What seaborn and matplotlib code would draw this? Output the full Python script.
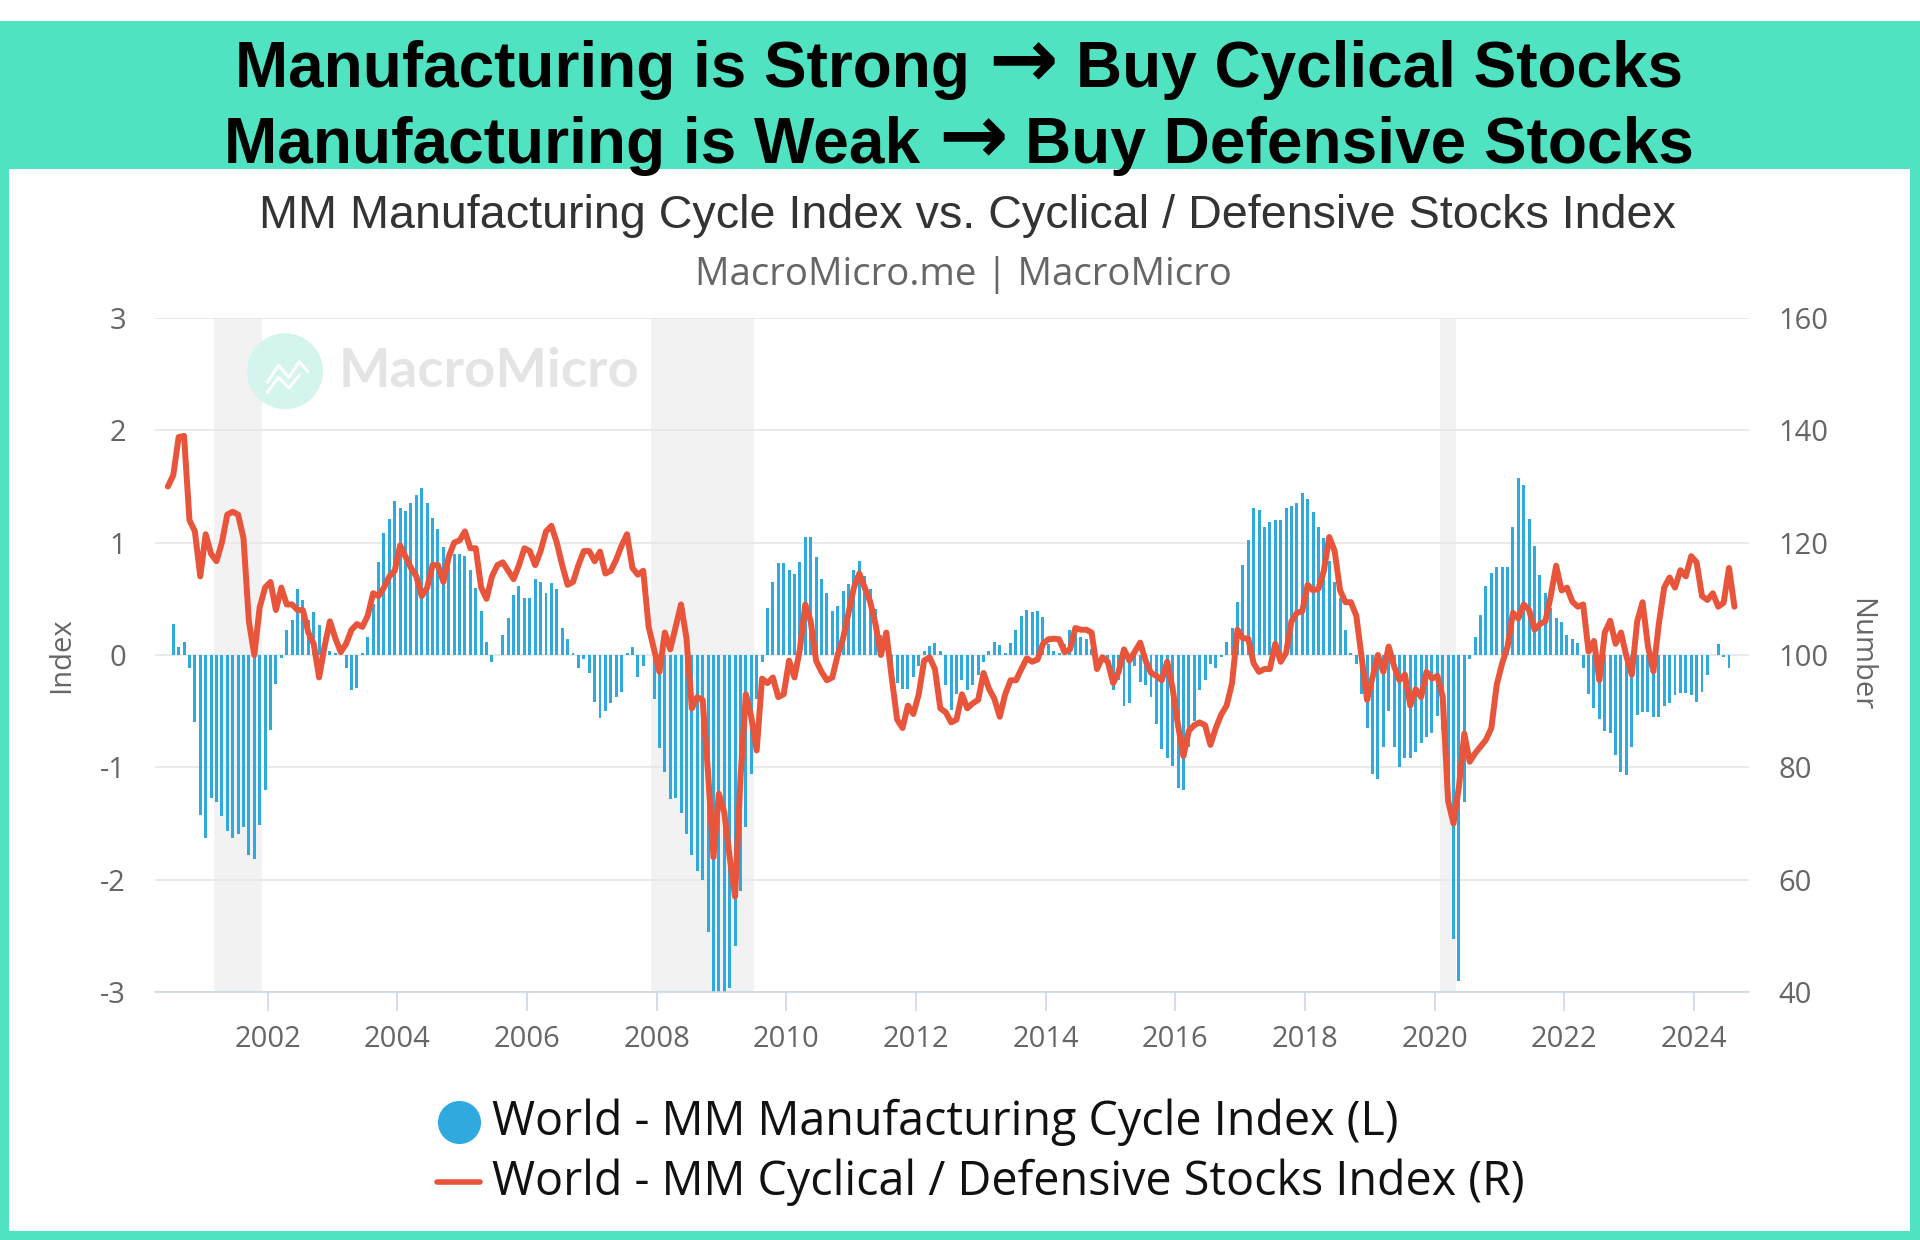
import numpy as np
import pandas as pd
import matplotlib
matplotlib.use('Agg')
import matplotlib.pyplot as plt
import seaborn as sns
from matplotlib.lines import Line2D
from matplotlib.patches import Rectangle, Ellipse
from matplotlib.offsetbox import TextArea, HPacker, AnnotationBbox

# --- data ---
# World MM Manufacturing Cycle Index (left axis), monthly from Jul 2000
mfg_start = '2000-07-01'
mfg_index = [
    0.28, 0.07, 0.12, -0.12, -0.6, -1.42,
    -1.63, -1.27, -1.31, -1.43, -1.57, -1.63, -1.59, -1.53, -1.78, -1.82, -1.51, -1.2,
    -0.67, -0.26, -0.03, 0.22, 0.31, 0.59, 0.49, 0.31, 0.38, 0.27, 0.16, 0.04,
    0.02, 0.0, -0.12, -0.31, -0.29, 0.02, 0.16, 0.45, 0.83, 1.09, 1.21, 1.37,
    1.31, 1.28, 1.35, 1.42, 1.49, 1.35, 1.22, 1.12, 0.96, 0.92, 0.9, 0.9,
    0.88, 0.76, 0.6, 0.39, 0.12, -0.06, 0.0, 0.18, 0.33, 0.53, 0.61, 0.51,
    0.51, 0.68, 0.65, 0.55, 0.64, 0.59, 0.24, 0.14, 0.02, -0.12, -0.04, -0.16,
    -0.42, -0.56, -0.5, -0.43, -0.37, -0.33, 0.02, 0.07, -0.2, -0.1, 0.0, -0.39,
    -0.83, -1.04, -1.28, -1.27, -1.41, -1.59, -1.78, -1.92, -2.0, -2.47, -3.05, -3.05,
    -3.05, -2.96, -2.59, -2.1, -1.53, -1.06, -0.39, -0.06, 0.42, 0.65, 0.82, 0.82,
    0.76, 0.72, 0.83, 1.05, 1.05, 0.87, 0.68, 0.55, 0.39, 0.44, 0.57, 0.63,
    0.76, 0.84, 0.7, 0.59, 0.41, 0.18, 0.0, -0.15, -0.25, -0.3, -0.3, -0.2,
    -0.1, 0.04, 0.08, 0.11, 0.04, -0.27, -0.49, -0.35, -0.22, -0.31, -0.27, -0.18,
    -0.06, 0.04, 0.12, 0.09, 0.02, 0.11, 0.22, 0.35, 0.4, 0.38, 0.39, 0.34,
    0.1, 0.04, 0.02, 0.1, 0.22, 0.18, 0.16, 0.14, 0.05, -0.06, -0.06, -0.1,
    -0.31, -0.22, -0.45, -0.43, -0.1, -0.24, -0.27, -0.37, -0.61, -0.84, -0.92, -0.99,
    -1.18, -1.2, -0.82, -0.59, -0.31, -0.22, -0.08, -0.12, -0.02, 0.12, 0.24, 0.47,
    0.8, 1.02, 1.31, 1.29, 1.14, 1.18, 1.2, 1.2, 1.31, 1.33, 1.35, 1.44,
    1.39, 1.27, 1.14, 1.04, 0.84, 0.65, 0.51, 0.22, 0.02, -0.08, -0.35, -0.65,
    -1.06, -1.1, -0.82, -0.5, -0.82, -1.0, -0.92, -0.92, -0.86, -0.78, -0.73, -0.69,
    -0.54, -0.67, -1.3, -2.53, -2.9, -1.31, -0.04, 0.16, 0.36, 0.61, 0.73, 0.78,
    0.78, 0.78, 1.14, 1.58, 1.51, 1.21, 0.97, 0.71, 0.55, 0.42, 0.33, 0.29,
    0.18, 0.14, 0.11, -0.12, -0.35, -0.47, -0.57, -0.68, -0.69, -0.89, -1.04, -1.07,
    -0.82, -0.53, -0.51, -0.51, -0.55, -0.55, -0.45, -0.43, -0.36, -0.34, -0.34, -0.36,
    -0.42, -0.33, -0.18, 0.0, 0.1, -0.02, -0.12,
]

# World MM Cyclical / Defensive Stocks Index (right axis), monthly from Jun 2000
stocks_start = '2000-06-01'
stocks_index = [
    130, 132, 138.8, 139, 124, 122, 114,
    121.5, 118, 116.7, 120, 125, 125.5, 125, 120.8, 106, 100, 108.5, 112,
    113, 108, 112, 109, 109, 108, 108, 104, 102, 96, 101.5, 106,
    103, 100.5, 102, 104.5, 105.5, 105, 107, 111, 110.5, 112, 114, 115,
    119.5, 117.5, 115.5, 114, 110.5, 112, 116, 116, 113, 117.5, 120, 120.4,
    122, 119, 119, 112, 110, 114, 116, 116.5, 115, 113.5, 116, 119,
    118.5, 116, 118.5, 122, 123, 120, 116, 112.5, 113, 116, 118.5, 118.5,
    116.7, 118.4, 114.5, 115, 117, 119.5, 121.5, 115.5, 114.3, 115, 105, 101,
    97, 104, 101, 105, 109, 103, 90.5, 92.5, 92, 79, 64, 75.3,
    72, 64, 57, 78, 93, 89, 83, 95.8, 95, 96, 92.5, 93,
    99, 96, 101, 109, 106, 99, 97, 95.5, 96, 100, 103, 107.5,
    112, 114.5, 112, 109.5, 105.5, 100, 104, 96, 88.5, 87, 91, 89.5,
    93, 99, 99.6, 97.5, 90.5, 89.8, 88, 88.5, 93, 90.5, 91.4, 92,
    96.8, 94, 92.2, 89, 93, 95.5, 95.5, 97.5, 99.4, 98.8, 99.2, 102,
    102.8, 102.9, 102.8, 100.5, 101, 104.8, 104.5, 104.5, 104, 97.5, 99.6, 98.8,
    95, 97, 101, 99, 100.6, 102.2, 99, 96.8, 96.3, 95.5, 98.8, 94,
    87.5, 82, 86.5, 87.5, 88, 87.5, 84, 87, 89.4, 91, 95, 104.5,
    103, 102.9, 98.5, 97, 97.5, 97.5, 102, 98.8, 100.4, 106, 107.5, 107.8,
    112.5, 111.5, 111.8, 115, 121, 118.5, 111.5, 109.4, 109.4, 107, 99.5, 92,
    96, 100, 97, 101.5, 98, 95.5, 96.5, 91, 93.9, 92.5, 97, 95.8,
    96.3, 92.5, 74, 70, 76.5, 86, 81, 82.5, 83.7, 84.9, 87, 94.7,
    98.5, 101.5, 107.5, 106.5, 109, 108, 104.5, 105.5, 106, 110.5, 115.9, 111.5,
    112, 109.5, 108.6, 109, 100.6, 102.5, 95.5, 104, 106.1, 102, 104, 99.8,
    96.5, 106, 109.4, 101.5, 97.1, 105.5, 112, 113.8, 112, 115.1, 114, 117.6,
    116.5, 110.5, 109.8, 111, 108.6, 109.3, 115.5, 108.6,
]

# US recessions (grey bands)
recession_start = ['2001-03', '2007-12', '2020-02']
recession_end = ['2001-11', '2009-06', '2020-04']

year_ticks = list(range(2002, 2025, 2))
left_ticks = [-3, -2, -1, 0, 1, 2, 3]
right_ticks = [40, 60, 80, 100, 120, 140, 160]

header_lines = [('Manufacturing is Strong', 'Buy Cyclical Stocks'),
                ('Manufacturing is Weak', 'Buy Defensive Stocks')]
arrow = '\u2192'
title = 'MM Manufacturing Cycle Index vs. Cyclical / Defensive Stocks Index'
subtitle = 'MacroMicro.me | MacroMicro'
label_mfg = 'World - MM Manufacturing Cycle Index (L)'
label_stocks = 'World - MM Cyclical / Defensive Stocks Index (R)'

TEAL = '#50E3C2'
BLUE = '#2FA9DE'
RED = '#E8553B'
GRAY = '#666666'


def dec_year(dates):
    return dates.year + (dates.month - 0.5) / 12


mfg = pd.DataFrame({'t': dec_year(pd.date_range(mfg_start, periods=len(mfg_index), freq='MS')),
                    'v': mfg_index})
stk = pd.DataFrame({'t': dec_year(pd.date_range(stocks_start, periods=len(stocks_index), freq='MS')),
                    'v': stocks_index})

sns.set_theme(style='white')
plt.rcParams['font.family'] = ['Open Sans', 'DejaVu Sans']

W, H = 1920, 1240
fig = plt.figure(figsize=(W / 100, H / 100), dpi=100)
fig.patch.set_facecolor('white')

# teal frame + header band, white panel inside
fig.add_artist(Rectangle((0, 0), 1, 1 - 21 / H, transform=fig.transFigure,
                         facecolor=TEAL, edgecolor='none', zorder=0))
fig.add_artist(Rectangle((9 / W, 1 - 1231 / H), 1901 / W, (1231 - 169) / H,
                         transform=fig.transFigure, facecolor='white',
                         edgecolor='none', zorder=0))


def fit(txt, width_px):
    fig.canvas.draw()
    w = txt.get_window_extent().width
    txt.set_fontsize(txt.get_fontsize() * width_px / w)


def header(y, left, right, fs):
    props = dict(fontsize=fs, fontweight='bold', color='black', family='Liberation Sans')
    parts = [TextArea(left, textprops=props),
             TextArea(arrow, textprops=dict(props, family='DejaVu Sans', fontsize=fs * 1.3)),
             TextArea(right, textprops=props)]
    box = HPacker(children=parts, align='baseline', pad=0, sep=fs * 0.28)
    ab = AnnotationBbox(box, (0.4995, y), xycoords='figure fraction', frameon=False,
                        box_alignment=(0.5, 0.5), pad=0)
    fig.add_artist(ab)
    return ab


for (left, right), y, width in zip(header_lines, [1 - 64 / H, 1 - 140 / H], [1446, 1468]):
    ab = header(y, left, right, 40)
    fig.canvas.draw()
    w = ab.get_window_extent(fig.canvas.get_renderer()).width
    ab.remove()
    header(y, left, right, 40 * width / w)

t1 = fig.text(0.504, 1 - 216 / H, title, ha='center', va='center',
              fontsize=29, color='#333333', family=['Liberation Sans', 'DejaVu Sans'])
t2 = fig.text(0.502, 1 - 275 / H, subtitle, ha='center', va='center',
              fontsize=24, color=GRAY)
fit(t1, 1416)
fit(t2, 539)

# --- main axes ---
ax = fig.add_axes([155 / W, 1 - 992 / H, (1749 - 155) / W, (992 - 318) / H])
ax.set_facecolor('none')
ax.set_xlim(2000.26, 2024.85)
ax.set_ylim(-3, 3)

for s, e in zip(recession_start, recession_end):
    s = pd.Timestamp(s)
    e = pd.Timestamp(e)
    ax.axvspan(s.year + (s.month - 1) / 12, e.year + e.month / 12,
               color='#F2F2F2', lw=0, zorder=0)

# watermark
ax.add_patch(Ellipse((0.0816, 0.921), 76 / 1594, 76 / 674, transform=ax.transAxes,
                     facecolor='#D3F5EE', edgecolor='none', zorder=0.5))
ax.plot([0.0705, 0.0775, 0.084, 0.0905, 0.096], [0.905, 0.93, 0.912, 0.935, 0.92],
        transform=ax.transAxes, color='white', lw=2.2, zorder=0.6)
ax.plot([0.0705, 0.0775, 0.084, 0.0905], [0.89, 0.912, 0.896, 0.915],
        transform=ax.transAxes, color='white', lw=2.2, zorder=0.6)
wm = ax.text(0.1154, 0.921, 'MacroMicro', transform=ax.transAxes, ha='left', va='center',
             fontsize=40, fontweight='bold', color='#E4E4E4', family=['Lato', 'DejaVu Sans'],
             zorder=0.6)
fit(wm, 300)

ax.bar(mfg['t'], mfg['v'], width=0.55 / 12, color=BLUE, linewidth=0, zorder=2)
ax.set_yticks(left_ticks)
ax.set_yticklabels([str(v) for v in left_ticks])
ax.yaxis.grid(True, color='#E6E6E6', lw=1.2, zorder=0)
ax.set_axisbelow(True)
ax.set_xticks(year_ticks)
ax.set_xticklabels([str(y) for y in year_ticks])
ax.tick_params(axis='x', length=14, width=1.2, color='#CCD6EB', labelsize=21,
               labelcolor=GRAY, pad=10, direction='out', bottom=True)
ax.tick_params(axis='y', length=0, labelsize=21, labelcolor=GRAY, pad=21)
for side in ['top', 'right', 'left']:
    ax.spines[side].set_visible(False)
ax.spines['bottom'].set_color('#CCD6EB')
ax.spines['bottom'].set_linewidth(1.2)
ax.set_ylabel('Index', fontsize=21, color=GRAY)
ax.yaxis.set_label_coords(-0.0496, 0.5)
ax.set_xlabel('')

ax2 = ax.twinx()
sns.lineplot(data=stk, x='t', y='v', ax=ax2, color=RED, linewidth=4.3, zorder=3)
ax2.set_ylim(40, 160)
ax2.set_xlim(2000.26, 2024.85)
ax2.set_yticks(right_ticks)
ax2.set_yticklabels([str(v) for v in right_ticks])
ax2.tick_params(axis='y', length=0, labelsize=21, labelcolor=GRAY, pad=21)
for side in ['top', 'right', 'left', 'bottom']:
    ax2.spines[side].set_visible(False)
ax2.set_ylabel('Number', fontsize=21, color=GRAY, rotation=-90, va='center')
ax2.yaxis.set_label_coords(1.0703, 0.5)
ax2.set_xlabel('')

# --- legend drawn by hand under the plot ---
y1 = 1 - 1122 / H
y2 = 1 - 1182 / H
fig.add_artist(Line2D([459 / W], [y1], marker='o', markersize=30, color=BLUE,
                      linestyle='none', transform=fig.transFigure))
fig.add_artist(Line2D([437 / W, 480 / W], [y2, y2], color=RED, lw=4,
                      transform=fig.transFigure))
l1 = fig.text(492 / W, y1, label_mfg, ha='left', va='center', fontsize=29, color='#111111')
l2 = fig.text(492 / W, y2, label_stocks, ha='left', va='center', fontsize=29, color='#111111')
fit(l1, 907)
l2.set_fontsize(l1.get_fontsize())

fig.savefig('out.png', dpi=100)
